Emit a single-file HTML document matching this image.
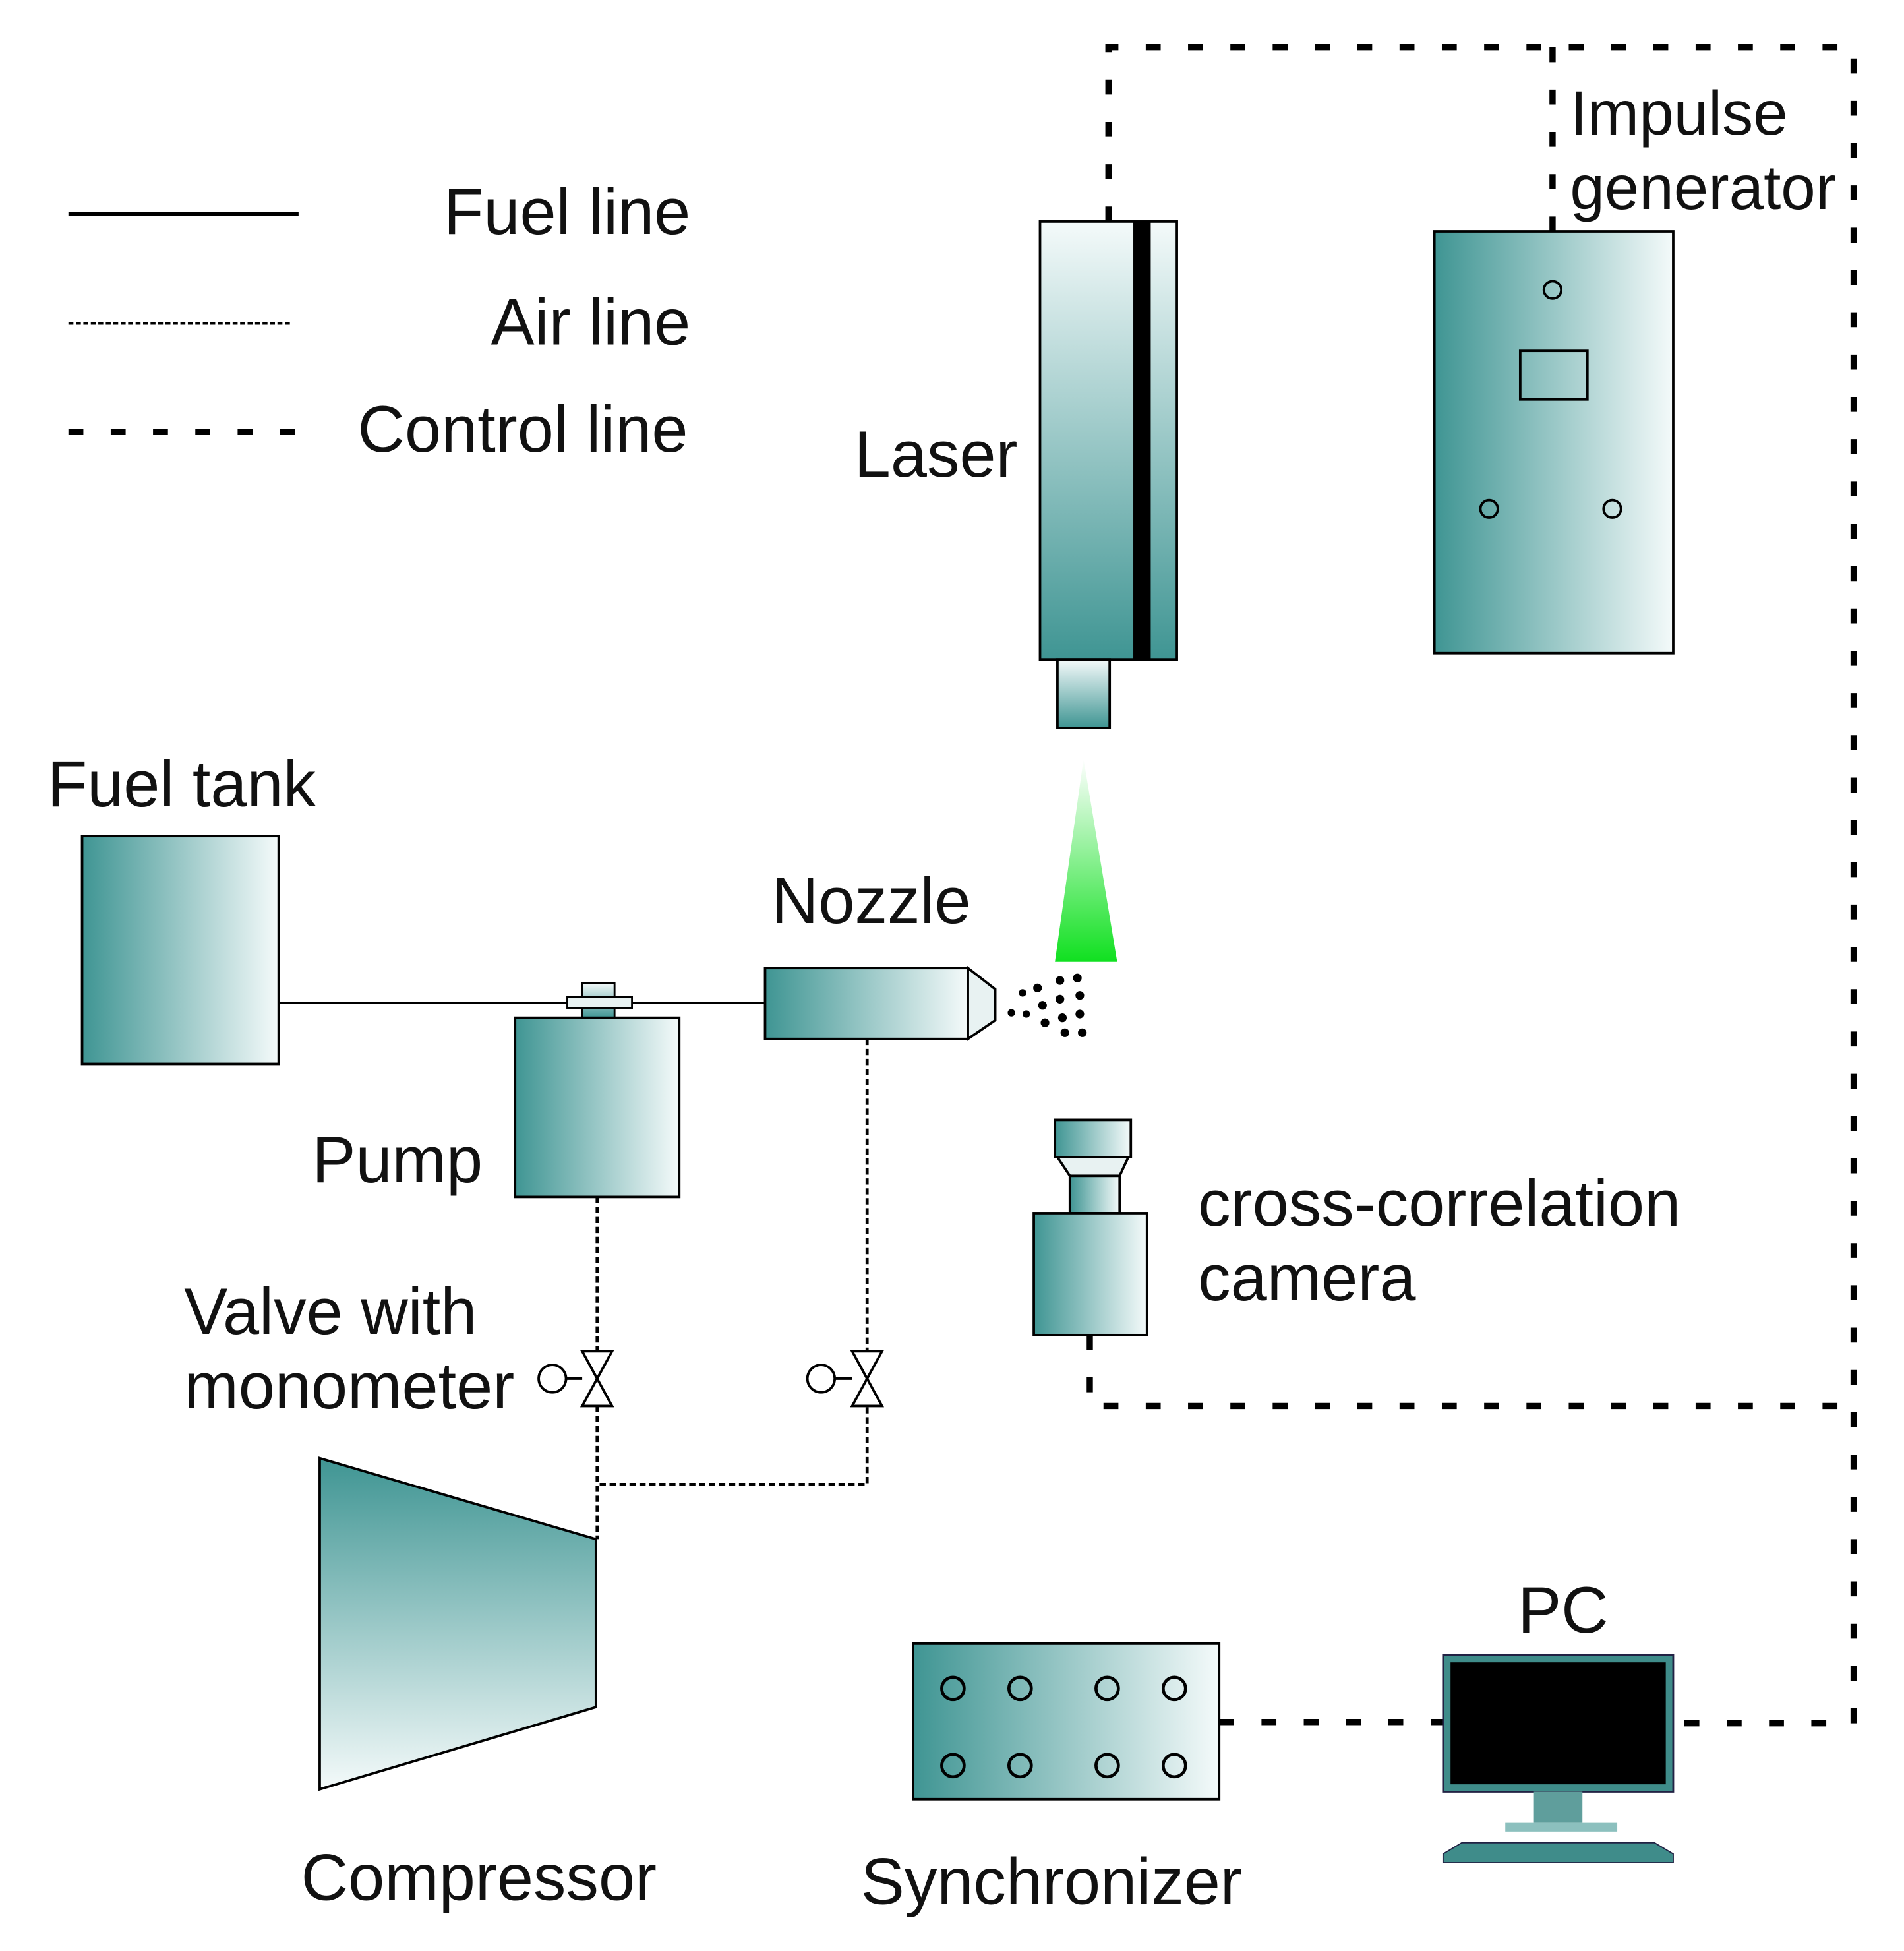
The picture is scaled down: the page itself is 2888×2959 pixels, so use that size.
<!DOCTYPE html>
<html><head><meta charset="utf-8"><style>html,body{margin:0;padding:0;background:#fff}svg{display:block}text{font-family:"Liberation Sans",Arial,sans-serif;fill:#111}</style></head>
<body>
<svg width="2888" height="2959" viewBox="0 0 1530.5 1568" preserveAspectRatio="none" xmlns="http://www.w3.org/2000/svg">
<defs>
<linearGradient id="h" x1="0" y1="0" x2="1" y2="0"><stop offset="0" stop-color="#3f9593"/><stop offset="1" stop-color="#f4fafa"/></linearGradient>
<linearGradient id="v" x1="0" y1="0" x2="0" y2="1"><stop offset="0" stop-color="#f4fafa"/><stop offset="1" stop-color="#3f9593"/></linearGradient>
<linearGradient id="vd" x1="0" y1="0" x2="0" y2="1"><stop offset="0" stop-color="#3f9593"/><stop offset="1" stop-color="#f4fafa"/></linearGradient>
<linearGradient id="g" x1="0" y1="0" x2="0" y2="1"><stop offset="0" stop-color="#ffffff"/><stop offset="1" stop-color="#10e020"/></linearGradient>
</defs>
<rect width="1530.5" height="1568" fill="#fff"/>
<line x1="55" y1="172" x2="240" y2="172" stroke="#000" stroke-width="3"/>
<line x1="55" y1="260" x2="233" y2="260" stroke="#000" stroke-width="2" stroke-dasharray="4 2"/>
<line x1="55" y1="347" x2="240" y2="347" stroke="#000" stroke-width="5" stroke-dasharray="12 22"/>
<g font-size="52.5" text-anchor="end"><text x="555" y="188">Fuel line</text><text x="555" y="277">Air line</text><text x="553" y="363">Control line</text></g>
<g fill="none" stroke="#000" stroke-width="5" stroke-dasharray="12 22">
<polyline points="891,178 891,38 1490,38 1490,1385 1345,1385"/>
<line x1="1248" y1="38" x2="1248" y2="186"/>
<polyline points="876,1073 876,1130 1490,1130"/>
<line x1="980" y1="1384" x2="1160" y2="1384"/>
</g>
<rect x="836" y="178" width="110" height="352" fill="url(#v)" stroke="#000" stroke-width="2"/>
<rect x="911" y="178" width="14" height="352" fill="#000"/>
<rect x="850" y="530" width="42" height="55" fill="url(#v)" stroke="#000" stroke-width="2"/>
<text x="818" y="383" font-size="52.5" text-anchor="end">Laser</text>
<polygon points="871,610 848,773 898,773" fill="url(#g)"/>
<rect x="1153" y="186" width="192" height="339" fill="url(#h)" stroke="#000" stroke-width="2"/>
<g fill="none" stroke="#000" stroke-width="2"><circle cx="1248" cy="233" r="7"/><circle cx="1197" cy="409" r="7"/><circle cx="1296" cy="409" r="7"/><rect x="1222" y="282" width="54" height="39"/></g>
<g font-size="50"><text x="1262" y="108">Impulse</text><text x="1262" y="168">generator</text></g>
<rect x="66" y="672" width="158" height="183" fill="url(#h)" stroke="#000" stroke-width="2"/>
<text x="38" y="648" font-size="52.5">Fuel tank</text>
<line x1="224" y1="806" x2="615" y2="806" stroke="#000" stroke-width="2"/>
<rect x="468" y="790" width="26" height="28" fill="url(#v)" stroke="#000" stroke-width="1.5"/>
<rect x="456" y="801" width="52" height="9" fill="#e8f2f2" stroke="#000" stroke-width="1.5"/>
<rect x="414" y="818" width="132" height="144" fill="url(#h)" stroke="#000" stroke-width="2"/>
<text x="388" y="950" font-size="52.5" text-anchor="end">Pump</text>
<rect x="615" y="778" width="163" height="57" fill="url(#h)" stroke="#000" stroke-width="2"/>
<polygon points="778,778 800,795 800,820 778,835" fill="#e8f2f2" stroke="#000" stroke-width="2"/>
<text x="620" y="742" font-size="52.5">Nozzle</text>
<g fill="#000"><circle cx="813" cy="814" r="3"/><circle cx="822" cy="798" r="3"/><circle cx="825" cy="815" r="3"/><circle cx="834" cy="794" r="3.5"/><circle cx="838" cy="808" r="3.5"/><circle cx="840" cy="822" r="3.5"/><circle cx="852" cy="788" r="3.5"/><circle cx="852" cy="803" r="3.5"/><circle cx="854" cy="818" r="3.5"/><circle cx="856" cy="830" r="3.5"/><circle cx="866" cy="786" r="3.5"/><circle cx="868" cy="800" r="3.5"/><circle cx="868" cy="815" r="3.5"/><circle cx="870" cy="830" r="3.5"/></g>
<g fill="none" stroke="#000" stroke-width="2.5" stroke-dasharray="5 3">
<line x1="480" y1="962" x2="480" y2="1237"/>
<polyline points="697,835 697,1193 480,1193"/>
</g>
<g fill="#fff" stroke="#000" stroke-width="2">
<polygon points="468,1086 492,1086 480,1108 492,1130 468,1130 480,1108"/>
<circle cx="444" cy="1108" r="11"/><line x1="455" y1="1108" x2="468" y2="1108"/>
<polygon points="685,1086 709,1086 697,1108 709,1130 685,1130 697,1108"/>
<circle cx="660" cy="1108" r="11"/><line x1="671" y1="1108" x2="685" y2="1108"/>
</g>
<g font-size="52.5"><text x="148" y="1072">Valve with</text><text x="148" y="1132">monometer</text></g>
<polygon points="257,1172 479,1237 479,1372 257,1438" fill="url(#vd)" stroke="#000" stroke-width="2"/>
<text x="242" y="1527" font-size="52.5">Compressor</text>
<rect x="848" y="900" width="61" height="30" fill="url(#h)" stroke="#000" stroke-width="2"/>
<polygon points="850,930 907,930 900,945 860,945" fill="#e8f2f2" stroke="#000" stroke-width="2"/>
<rect x="860" y="945" width="40" height="30" fill="url(#h)" stroke="#000" stroke-width="2"/>
<rect x="831" y="975" width="91" height="98" fill="url(#h)" stroke="#000" stroke-width="2"/>
<g font-size="52.5"><text x="963" y="985">cross-correlation</text><text x="963" y="1045">camera</text></g>
<rect x="734" y="1321" width="246" height="125" fill="url(#h)" stroke="#000" stroke-width="2"/>
<g fill="none" stroke="#000" stroke-width="2.5"><circle cx="766" cy="1357" r="9"/><circle cx="820" cy="1357" r="9"/><circle cx="890" cy="1357" r="9"/><circle cx="944" cy="1357" r="9"/><circle cx="766" cy="1419" r="9"/><circle cx="820" cy="1419" r="9"/><circle cx="890" cy="1419" r="9"/><circle cx="944" cy="1419" r="9"/></g>
<text x="692" y="1530" font-size="52.5">Synchronizer</text>
<rect x="1160" y="1330" width="185" height="110" fill="#3f8c8a" stroke="#224" stroke-width="1.5"/>
<rect x="1166" y="1336" width="173" height="98" fill="#000"/>
<rect x="1233" y="1440" width="39" height="25" fill="#5f9e9c"/>
<rect x="1210" y="1465" width="90" height="7" fill="#8cc0be"/>
<polygon points="1175,1481 1330,1481 1345,1490 1345,1497 1160,1497 1160,1490" fill="#3f8c8a" stroke="#224" stroke-width="1"/>
<text x="1220" y="1312" font-size="52.5">PC</text>
</svg>
</body></html>
